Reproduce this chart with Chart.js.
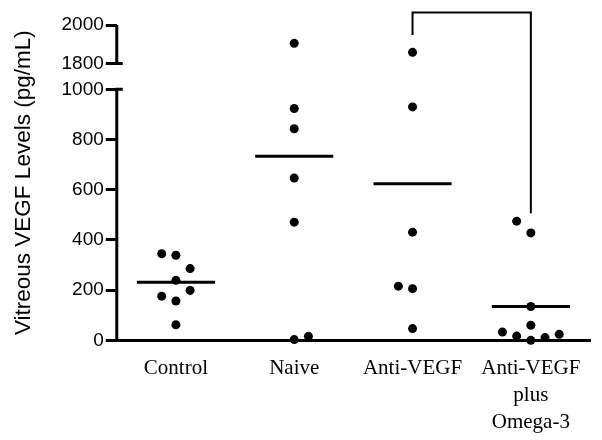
<!DOCTYPE html>
<html><head><meta charset="utf-8">
<script src="https://cdn.jsdelivr.net/npm/chart.js@4/dist/chart.umd.min.js"></script>
<style>html,body{margin:0;padding:0;background:#fff}</style>
</head><body>
<canvas id="c" width="602" height="440"></canvas>
<script>
// ---- data ----
const categories = ['Control', 'Naive', 'Anti-VEGF', 'Anti-VEGF plus Omega-3'];
const tickLabels = [['Control'], ['Naive'], ['Anti-VEGF'], ['Anti-VEGF', 'plus', 'Omega-3']];
const controlVals   = [345, 339, 286, 239, 199, 176, 157, 62];
const controlSlots  = [-1, 0, 1, 0, 1, -1, 0, 0];
const naiveVals     = [1905, 924, 843, 647, 471, 3, 16];
const naiveSlots    = [0, 0, 0, 0, 0, 0, 1];
const antiVals      = [1858, 930, 431, 216, 206, 47];
const antiSlots     = [0, 0, 0, -1, 0, 0];
const omegaVals     = [475, 428, 135, 60, 33, 17, 0, 11, 24];
const omegaSlots    = [-1, 0, 0, 0, -2, -1, 0, 1, 2];
const groupMeans    = [232, 734, 624, 135];
const lowerTicks    = [0, 200, 400, 600, 800, 1000];
const upperTicks    = [1800, 2000];
const bracketGroups = [2, 3];
const bracketLevels = [1948, 2065, 506]; // left end (upper), top (upper), right end (lower)

// ---- build ----
const groups = [controlVals, naiveVals, antiVals, omegaVals];
const slots = [controlSlots, naiveSlots, antiSlots, omegaSlots];
const SLOT = 0.12, HALF = 0.33;
const breakAt = lowerTicks[lowerTicks.length - 1];
const lowPts = [], highPts = [];
groups.forEach((vals, g) => vals.forEach((v, i) => {
  const p = {x: g + slots[g][i] * SLOT, y: v};
  (v > breakAt ? highPts : lowPts).push(p);
}));
const meanSets = groupMeans.map((m, g) => ({
  type: 'line', data: [{x: g - HALF, y: m}, {x: g + HALF, y: m}], yAxisID: 'yBot',
  borderColor: '#000', borderWidth: 3, pointRadius: 0, clip: false
}));

const brokenAxis = {
  id: 'brokenAxis',
  afterDraw(chart) {
    const ctx = chart.ctx, ca = chart.chartArea;
    const yT = chart.scales.yTop, yB = chart.scales.yBot, xs = chart.scales.x;
    ctx.save();
    ctx.strokeStyle = '#000';
    ctx.lineWidth = 3;
    const ax = ca.left;
    ctx.beginPath();
    ctx.moveTo(ax, yB.getPixelForValue(lowerTicks[0]) + 1.5);
    ctx.lineTo(ax, yB.getPixelForValue(breakAt));
    ctx.lineTo(ax + 6, yB.getPixelForValue(breakAt));
    ctx.moveTo(ax, yT.getPixelForValue(upperTicks[1]));
    ctx.lineTo(ax, yT.getPixelForValue(upperTicks[0]));
    ctx.lineTo(ax + 6, yT.getPixelForValue(upperTicks[0]));
    ctx.stroke();
    ctx.lineWidth = 2;
    ctx.beginPath();
    ctx.moveTo(xs.getPixelForValue(bracketGroups[0]), yT.getPixelForValue(bracketLevels[0]));
    ctx.lineTo(xs.getPixelForValue(bracketGroups[0]), yT.getPixelForValue(bracketLevels[1]));
    ctx.lineTo(xs.getPixelForValue(bracketGroups[1]), yT.getPixelForValue(bracketLevels[1]));
    ctx.lineTo(xs.getPixelForValue(bracketGroups[1]), yB.getPixelForValue(bracketLevels[2]));
    ctx.stroke();
    ctx.restore();
  }
};

const yCommon = {
  position: 'left', stack: 'y', border: {display: false},
  grid: {display: true, drawOnChartArea: false, drawTicks: true, tickLength: 11, color: '#000', lineWidth: 3},
  ticks: {color: '#000', padding: 2, font: {family: 'Liberation Sans', size: 19}, callback: v => String(v)}
};

new Chart(document.getElementById('c'), {
  type: 'scatter',
  data: {
    datasets: [
      {data: lowPts, yAxisID: 'yBot', pointRadius: 4.5, backgroundColor: '#000', borderColor: '#000', borderWidth: 0, clip: false},
      {data: highPts, yAxisID: 'yTop', pointRadius: 4.5, backgroundColor: '#000', borderColor: '#000', borderWidth: 0, clip: false},
      ...meanSets
    ]
  },
  options: {
    responsive: false, animation: false, events: [],
    layout: {padding: {left: 0, right: 12, top: 25, bottom: -11}},
    plugins: {
      legend: {display: false}, tooltip: {enabled: false},
      title: {
        display: true, position: 'left', fullSize: false,
        text: 'Vitreous VEGF Levels (pg/mL)', color: '#000',
        font: {family: 'Liberation Sans', size: 22.5, weight: 'normal'},
        padding: {top: 10, bottom: 22.5}
      }
    },
    scales: {
      x: {
        type: 'linear', min: -0.5, max: 3.5,
        afterBuildTicks: s => { s.ticks = categories.map((c, i) => ({value: i})); },
        grid: {display: false, drawTicks: false},
        border: {display: true, color: '#000', width: 3},
        ticks: {
          autoSkip: false, maxRotation: 0, padding: 15, color: '#000',
          font: {family: 'Liberation Serif', size: 21, lineHeight: 1.28},
          callback: v => tickLabels[v]
        }
      },
      yBot: Object.assign({}, yCommon, {
        type: 'linear', min: 0, max: 1000, stackWeight: 250.7,
        afterBuildTicks: s => { s.ticks = lowerTicks.map(v => ({value: v})); }
      }),
      yTop: Object.assign({}, yCommon, {
        type: 'linear', min: 1666, max: 2000, stackWeight: 64.3,
        afterBuildTicks: s => { s.ticks = upperTicks.map(v => ({value: v})); }
      })
    }
  },
  plugins: [brokenAxis]
});
</script>
</body></html>
